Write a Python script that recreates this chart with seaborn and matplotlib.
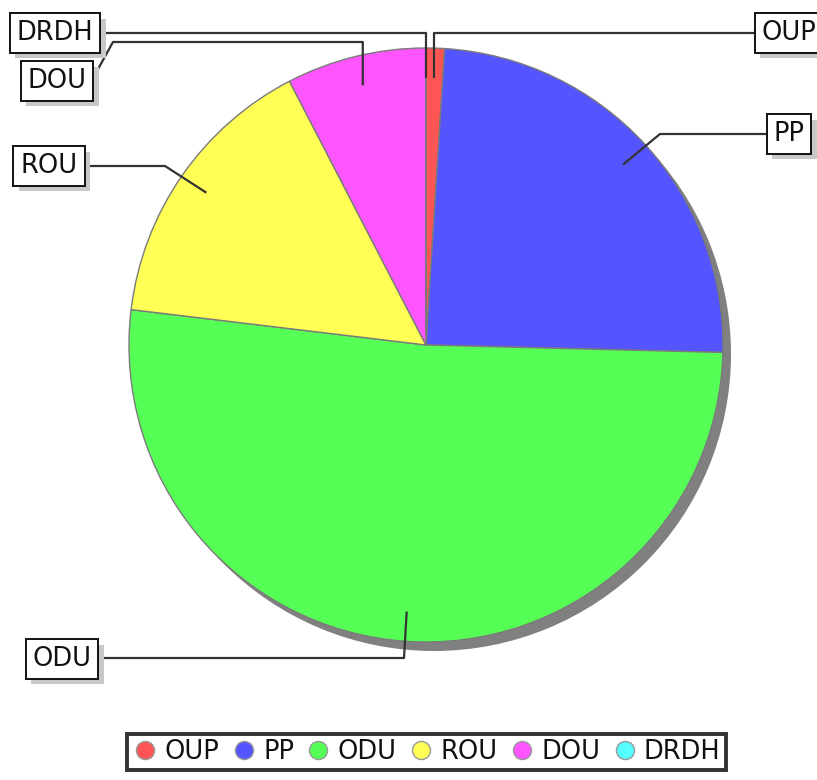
import matplotlib
matplotlib.use("Agg")
import matplotlib.pyplot as plt
from matplotlib.lines import Line2D
import matplotlib.patheffects as pe
import numpy as np
import seaborn as sns

# ---- data ----
categories = ["OUP", "PP", "ODU", "ROU", "DOU", "DRDH"]
values = [1.0, 24.4, 51.5, 15.5, 7.6, 0.0]
colors = ["#FF5555", "#5555FF", "#55FF55", "#FFFF55", "#FF55FF", "#55FFFF"]

sns.set_theme(style="white")
plt.rcParams["font.family"] = ["DejaVu Sans"]
palette = sns.color_palette(colors)

W, H = 817, 780
fig = plt.figure(figsize=(W / 100, H / 100), dpi=100)
ax = fig.add_axes([0, 0, 1, 1])

def Y(py):
    return H - py

cx, cy, R = 426, Y(345), 297

# shadow
ax.pie([1], center=(cx + 8, cy - 9), radius=R, colors=["#808080"],
       startangle=90, wedgeprops=dict(linewidth=0))
wedges, _ = ax.pie(values, center=(cx, cy), radius=R, colors=palette,
                   startangle=90, counterclock=False,
                   wedgeprops=dict(edgecolor="#7a7a7a", linewidth=1.0))

ax.set_xlim(0, W)
ax.set_ylim(0, H)
ax.set_aspect("equal")
ax.axis("off")

# label layout (pixel coords from top-left): box centre, elbow point
label_box = {"OUP": (789, 33), "PP": (789, 134), "ODU": (62, 659),
             "ROU": (49, 166), "DOU": (57, 81), "DRDH": (55, 33)}
box_edge_x = {"OUP": 757, "PP": 768, "ODU": 98, "ROU": 83, "DOU": 92, "DRDH": 97}
elbow = {"OUP": [(None, 33)], "PP": [(660, 134)], "ODU": [(404, 658)],
         "ROU": [(165, 166)], "DOU": [(None, 42), (113, 42)], "DRDH": [(None, 33)]}

fs = 18.5
for w, name in zip(wedges, categories):
    mid = np.deg2rad((w.theta1 + w.theta2) / 2)
    ix = cx + 0.9 * R * np.cos(mid)
    iy = cy + 0.9 * R * np.sin(mid)
    xs, ys = [ix], [iy]
    for ex, ey in elbow[name]:
        xs.append(ix if ex is None else ex)
        ys.append(Y(ey))
    bx, by = label_box[name]
    if name == "DOU":
        xs.append(box_edge_x[name]); ys.append(Y(80))
    else:
        xs.append(box_edge_x[name]); ys.append(ys[-1])
    ax.plot(xs, ys, color="#333333", lw=1.6, solid_capstyle="butt", zorder=5)
    t = ax.text(bx, Y(by), name, fontsize=fs, ha="center", va="center",
                color="#111111", zorder=7,
                bbox=dict(boxstyle="square,pad=0.27", fc="white", ec="#111111", lw=1.4))
    t.get_bbox_patch().set_path_effects([
        pe.SimplePatchShadow(offset=(4, -4), shadow_rgbFace="#c8c8c8", alpha=1.0),
        pe.Normal()])

handles = [Line2D([0], [0], marker="o", linestyle="none", markersize=13,
                  markerfacecolor=c, markeredgecolor="#999999", markeredgewidth=1)
           for c in colors]
leg = fig.legend(handles, categories, loc="lower center", bbox_to_anchor=(0.522, -0.004),
                 ncol=6, fontsize=fs, frameon=True, fancybox=False,
                 handletextpad=0.25, columnspacing=0.45, borderpad=0.2,
                 handlelength=1.0, labelcolor="#111111")
leg.get_frame().set_edgecolor("#000000")
leg.get_frame().set_linewidth(2.8)

fig.savefig("out.png", dpi=100)
